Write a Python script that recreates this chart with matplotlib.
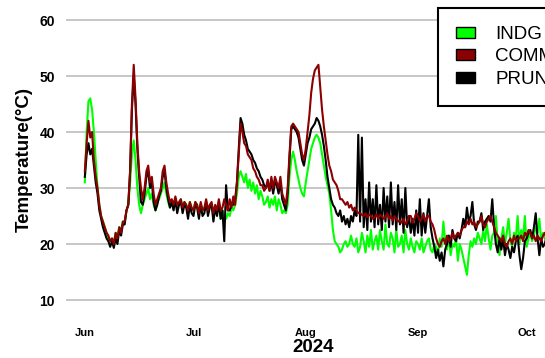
import pandas as pd
import matplotlib
matplotlib.use("Agg")
import matplotlib.pyplot as plt
from matplotlib.patches import Patch

plt.rcParams['font.family'] = ['Liberation Sans', 'DejaVu Sans']

# logger readings, two per day (00h / 12h) starting 2024-06-01
indg = [
    31, 40, 45.5, 46, 44, 40, 35, 30, 27, 25, 24, 23, 22, 21, 20.5, 21, 20, 22, 21, 23,
    22.5, 24, 24, 26, 27, 31, 36, 38.5, 35, 30, 27, 25.5, 27, 28, 29, 30, 28, 29, 27, 26,
    27.5, 28, 29, 30, 31, 29, 27.5, 26.5, 27.5, 26.5, 28, 27, 27, 28, 26.5, 27.5, 27, 26, 27.5, 26,
    26, 27.5, 27, 25.5, 27, 26, 26, 27.5, 26, 27, 27, 25, 26.5, 25.5, 27, 24.5, 26, 25, 24.5, 25.5,
    25, 26.5, 26, 27, 29, 32, 33, 32, 31, 32.5, 30, 31.5, 29.5, 31, 29, 30.5, 28, 29.5, 28.5, 27,
    27.5, 28.5, 26.5, 28, 27, 28.5, 26, 28, 27, 25.5, 26, 25.5, 27, 32, 35, 36.5, 35, 33, 31.5, 30,
    29, 28.5, 31, 33, 35, 37, 38, 39, 39.5, 39, 38, 36, 34, 32, 30.5, 29, 26, 22.5, 20.5, 20,
    19.5, 18.5, 19, 20, 20.5, 19.5, 20, 21.5, 20, 19.5, 21, 18.5, 19.5, 22, 20.5, 18.5, 21.5, 19.5, 22.5, 19,
    20.5, 21.5, 19, 22.5, 20.5, 19, 23.5, 20, 19.5, 22, 21, 18.5, 22.5, 19.5, 20, 21.5, 18.5, 22.5, 20, 19,
    21, 19.5, 18.5, 20.5, 20, 19, 21, 18.5, 19.5, 20.5, 21, 19, 18.5, 20, 19.5, 18, 21, 19.5, 24, 20.5,
    19, 21.5, 18, 20, 19.5, 21, 17, 20, 19, 17.5, 16, 14.5, 18, 20.5, 19.5, 21, 20, 22, 21, 20,
    22.5, 20.5, 23.5, 21, 19, 21.5, 22, 25, 20, 18, 21, 23, 20, 22, 24.5, 20.5, 19.5, 22, 21, 25,
    20, 22.5, 21, 25, 19.5, 21, 22, 20.5, 21.5, 23, 22, 24.5, 20.5, 22, 21, 23, 20, 22.5, 21.5, 20, 22, 21,
]
comm = [
    33, 38, 42, 39, 40, 35, 32, 30, 27, 25, 24, 23, 22, 21.5, 20.5, 21, 20, 22, 21, 23,
    22, 24, 24, 26, 27, 33, 45, 52, 46, 38, 33, 30, 28, 30, 33, 34, 31, 32, 29, 27,
    28, 29, 30, 33, 34, 31, 29, 27.5, 28, 27, 28.5, 27, 27.5, 28, 26.5, 27.5, 27, 26, 27.5, 26.5,
    26, 27.5, 27, 25.5, 27.5, 26, 26.5, 28, 26, 27, 27.5, 25.5, 27, 26, 28, 26, 26.5, 28, 27, 26,
    28, 26.5, 28.5, 27, 31, 36, 41.5, 40, 38, 37.5, 36, 35.5, 35, 33.5, 33, 32, 31.5, 30.5, 30.5, 29.5,
    30, 31.5, 29.5, 32, 30, 32, 31, 30, 32, 29, 28, 27, 30, 36, 41, 41.5, 41, 40.5, 40, 38,
    36, 35, 37, 40, 43, 47, 49.5, 51, 51.5, 52, 48, 44, 41, 38.5, 36, 34, 33, 31.5, 31, 30.5,
    29.5, 28, 28, 27.5, 27, 27.5, 26.5, 27, 26, 26.5, 26, 25.5, 25.5, 25.2, 25, 25.5, 24.8, 25.3, 25, 24.5,
    24.8, 25.3, 24.5, 25.2, 25, 24.5, 24.8, 25.5, 24.5, 25, 24.2, 25, 24.5, 24, 24.2, 23.8, 24.5, 23.5, 24, 25,
    25, 23.8, 24.5, 25.5, 25, 24, 24.5, 25.2, 24, 25, 25, 24, 23.5, 22.5, 21, 20, 19.5, 20.5, 21, 20,
    21.5, 20.5, 21, 22, 21, 21.5, 22, 21.5, 22.5, 23, 23, 24, 23.5, 24.5, 23.5, 24, 23, 23.5, 24, 25,
    23.5, 23, 24, 24.5, 25, 24, 23, 22, 21.5, 21, 20.5, 21.5, 20, 19.5, 20.5, 21, 20, 21.5, 20.5, 21,
    21, 21.5, 20.5, 22, 21.5, 22.5, 22, 21, 21.5, 20.5, 21.5, 21, 20.5, 21.5, 22, 21, 21.5, 20.5, 21, 22, 20.5, 21,
]
prun = [
    32, 36, 38, 36, 37, 34, 31, 29, 26, 24.5, 23, 22, 21, 20.5, 19.5, 20.5, 19.3, 21, 20, 22.5,
    21.5, 23.5, 23.5, 26, 27, 33, 44, 50, 45, 37, 32, 27.5, 27, 29, 32, 33, 30, 31, 27.5, 26,
    27, 28.5, 29.5, 32, 33, 30, 28, 26.5, 27.5, 26, 28, 25.5, 27, 27.5, 25.5, 27, 26.5, 24.5, 27, 25.5,
    25, 27, 26.5, 24.5, 27, 25, 25.5, 27.5, 25, 26.5, 27, 24, 26.5, 25, 27.5, 24.5, 26, 20.5, 30.5, 26,
    26, 27, 27, 28, 31, 37, 42.5, 41.5, 39.5, 38.5, 37, 36.5, 36, 35, 34.5, 33.5, 33, 32, 31.5, 30.5,
    30, 31, 29.5, 31, 29, 31, 30.5, 29, 31, 28, 27, 26, 29, 35, 40.5, 41, 40.5, 40, 39, 37,
    35, 34, 36, 38, 39, 40.5, 41, 41.5, 42.5, 42, 41, 39.5, 37.5, 35, 32, 30, 28, 27, 26.5, 25.5,
    25, 26, 24, 25, 23.5, 24.5, 23, 25, 24, 26, 25, 39.5, 24, 39, 23, 28, 22.5, 31, 24, 28,
    23, 30.5, 23.5, 27, 22.5, 30, 24, 28.5, 23, 31, 23.5, 27.5, 22.5, 30.5, 23.5, 28, 22, 30, 23, 25,
    22, 24.5, 21.5, 26, 22, 28, 21.5, 25.5, 22, 25, 28, 23, 21, 19.5, 17.5, 19, 17, 18.5, 16, 19,
    20, 21.5, 19.5, 22.5, 21, 20.5, 22, 21, 22.5, 24.5, 23, 26.5, 24, 25, 27.5, 23.5, 22.5, 24, 24, 25.5,
    22.5, 24, 24.5, 25, 24, 28, 23, 20, 18.5, 21, 19, 21, 18, 20, 19, 17.5, 19.5, 18.5, 20.5, 21.5,
    18, 15.5, 17.5, 20.5, 21, 22, 22.5, 21, 23, 25.5, 21, 18, 21, 19.5, 20, 21.5, 19, 21, 20.5, 19.5, 21, 20,
]
months = ['2024-06-01', '2024-07-01', '2024-08-01', '2024-09-01', '2024-10-01']
month_labels = ['Jun', 'Jul', 'Aug', 'Sep', 'Oct']

times = pd.date_range('2024-06-01', periods=len(comm), freq='12h')

fig = plt.figure(figsize=(5.45, 3.58), dpi=100)
ax = fig.add_axes([66 / 545, 1 - 314 / 358, (560 - 66) / 545, 308 / 358])

ax.plot(times, indg, color='#00FF00', lw=1.5)
ax.plot(times, prun, color='black', lw=1.5)
ax.plot(times, comm, color='#8B0000', lw=1.5)

t0 = pd.Timestamp('2024-06-01')
ax.set_xlim(t0 - pd.Timedelta(days=5.2), t0 + pd.Timedelta(days=131.2))
ax.set_ylim(7.5, 62.5)
ax.set_yticks([10, 20, 30, 40, 50, 60])
ax.set_xticks(pd.to_datetime(months))
ax.set_xticklabels(month_labels, fontsize=8, fontweight='bold')
for lab in ax.get_yticklabels():
    lab.set_fontsize(10)
    lab.set_fontweight('bold')
ax.tick_params(axis='x', length=0, pad=10)
ax.tick_params(axis='y', length=0, pad=8)
ax.yaxis.grid(True, color='#BEBEBE', lw=1.2)
ax.set_axisbelow(True)
for s in ax.spines.values():
    s.set_visible(False)

ax.set_xlabel('2024', fontsize=13.5, fontweight='bold', labelpad=1)
ax.set_ylabel('Temperature(°C)', fontsize=13.5, fontweight='bold', labelpad=5)

handles = [Patch(facecolor='#00FF00', edgecolor='black', lw=1),
           Patch(facecolor='#8B0000', edgecolor='black', lw=1),
           Patch(facecolor='black', edgecolor='black', lw=1)]
leg = fig.legend(handles, ['INDG', 'COMM', 'PRUN'], loc='upper left',
                 bbox_to_anchor=(438 / 545, 1 - 8 / 358), bbox_transform=fig.transFigure,
                 frameon=True, fancybox=False, edgecolor='black', framealpha=1,
                 fontsize=13.5, handlelength=1.0, handleheight=0.55, labelspacing=0.3,
                 handletextpad=1.1, borderpad=0.95, borderaxespad=0)
leg.get_frame().set_linewidth(1.5)

fig.savefig('out.png', dpi=100)
